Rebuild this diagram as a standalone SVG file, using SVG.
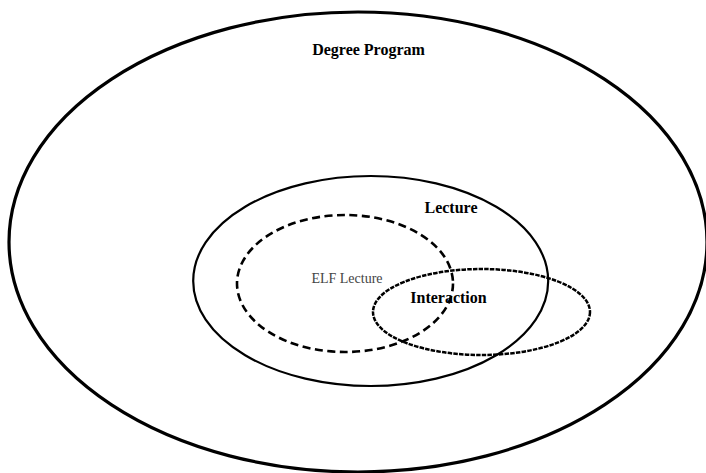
<svg xmlns="http://www.w3.org/2000/svg" width="706" height="473" viewBox="0 0 706 473">
<style>
.sh{fill:none;stroke:#000}
.lb{font-family:"Liberation Serif","Times New Roman",serif;text-anchor:middle;fill:#000}
.b{font-weight:bold;font-size:16px}
</style>
<rect width="706" height="473" fill="#fff"/>
<g id="degree-program">
<ellipse class="sh" cx="358" cy="242" rx="349" ry="230" stroke-width="3.2"/>
<text class="lb b" x="368.5" y="55" font-size="16.5">Degree Program</text>
</g>
<g id="lecture">
<ellipse class="sh" cx="370.7" cy="281" rx="177.5" ry="105" stroke-width="2.2"/>
<text class="lb b" x="451" y="213">Lecture</text>
</g>
<g id="elf-lecture">
<ellipse class="sh" cx="345" cy="283.5" rx="108" ry="68.5" stroke-width="2.6" stroke-dasharray="8 4.5"/>
<text class="lb" x="347" y="283" font-size="14" style="fill:#444">ELF Lecture</text>
</g>
<g id="interaction">
<ellipse class="sh" cx="481.5" cy="312" rx="108.5" ry="43" stroke-width="2.5" stroke-dasharray="4.5 1.2"/>
<text class="lb b" x="448.5" y="303">Interaction</text>
</g>
<g id="connectors"></g>
</svg>
